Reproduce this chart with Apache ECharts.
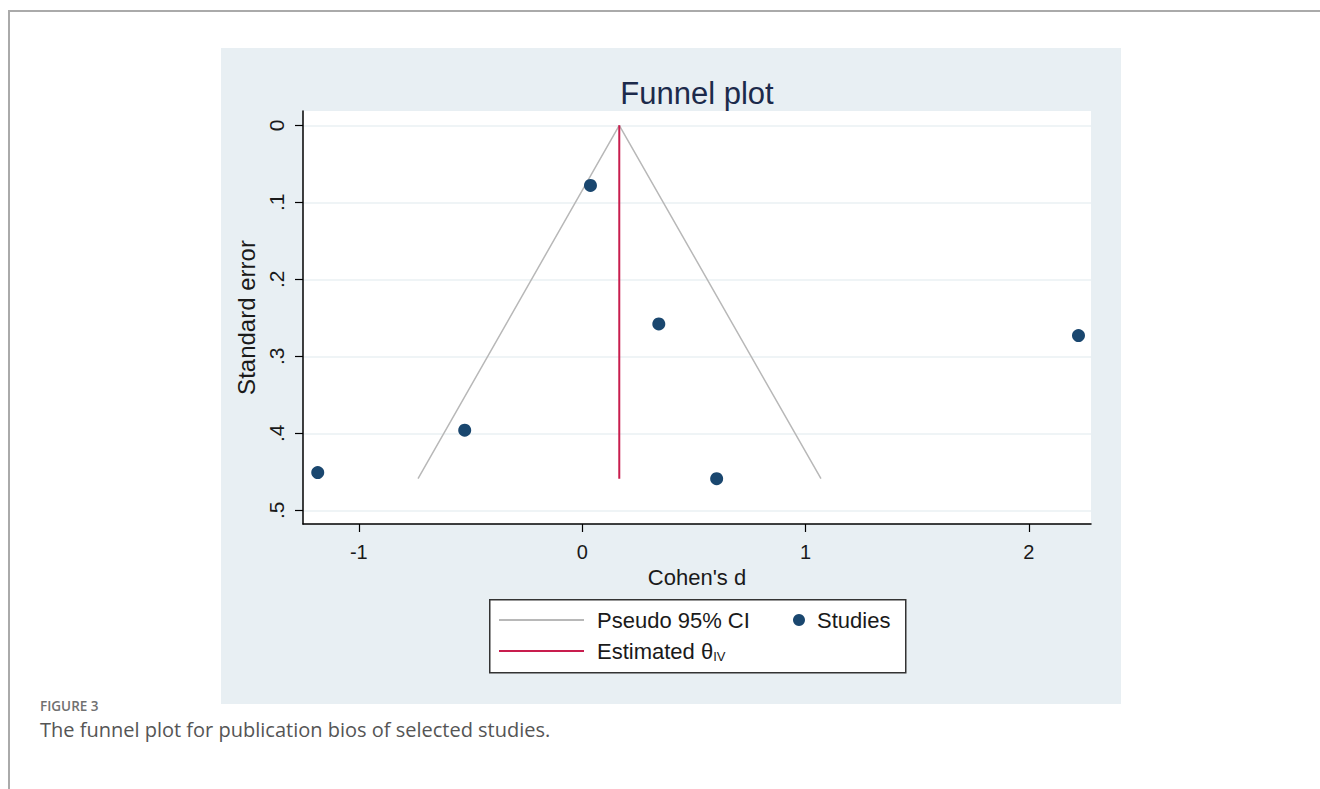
<!DOCTYPE html>
<html>
<head>
<meta charset="utf-8">
<script src="https://cdn.jsdelivr.net/npm/echarts@6/dist/echarts.min.js"></script>
<style>
  html, body { margin: 0; padding: 0; background: #fff; }
  .page { position: relative; width: 1320px; height: 789px; overflow: hidden; }
  .rule-top { position: absolute; left: 8px; top: 10px; right: 0; height: 1.5px; background: #aaa; }
  .rule-left { position: absolute; left: 8px; top: 10px; bottom: 0; width: 1.5px; background: #aaa; }
  .chart { position: absolute; left: 221px; top: 48px; width: 900px; height: 656px; }
  .fig { position: absolute; left: 40px; top: 697px; font-family: "Open Sans", sans-serif; font-size: 13.5px; font-weight: 600; color: #707070; }
  .cap { position: absolute; left: 40px; top: 716px; font-family: "Open Sans", sans-serif; font-size: 20px; color: #555; }
</style>
</head>
<body>
<div class="page">
  <div class="rule-top"></div>
  <div class="rule-left"></div>
  <div id="chart" class="chart"></div>
  <div class="fig">FIGURE 3</div>
  <div class="cap">The funnel plot for publication bios of selected studies.</div>
</div>
<script>
  // studies (Cohen's d, standard error)
  const studyD = [0.037, 0.343, 2.222, 0.602, -0.526, -1.184]
  const studySE = [0.078, 0.258, 0.273, 0.459, 0.396, 0.451]
  // pseudo 95% CI funnel
  const ciD = [-0.735, 0.166, 1.069]
  const ciSE = [0.459, 0, 0.459]
  // estimated theta (IV)
  const thetaD = [0.166, 0.166]
  const thetaSE = [0, 0.459]
  const xTicks = [-1, 0, 1, 2]
  const yTicks = [0, 0.1, 0.2, 0.3, 0.4, 0.5]

  const pairs = (xs, ys) => xs.map((x, i) => [x, ys[i]])
  const font = '"Liberation Sans", Arial, sans-serif'

  const myChart = echarts.init(document.getElementById('chart'), null, { renderer: 'svg' })
  const option = {
    backgroundColor: '#e8eff3',
    animation: false,
    textStyle: { fontFamily: font },
    title: {
      text: 'Funnel plot',
      left: 471,
      textAlign: 'center',
      top: 25,
      textStyle: { fontFamily: font, fontSize: 31, fontWeight: 'normal', color: '#1c2a4b' },
    },
    grid: {
      left: 82,
      top: 63,
      right: 30,
      bottom: 180,
      show: true,
      backgroundColor: '#fff',
      borderWidth: 0,
    },
    graphic: [
      {
        type: 'rect',
        left: 268,
        top: 551,
        shape: { width: 416, height: 73 },
        style: { fill: '#fff', stroke: '#333', lineWidth: 1.5 },
        z: 0,
      },
    ],
    legend: [
      {
        data: [{ name: 'Pseudo 95% CI', icon: 'rect' }],
        left: 278,
        top: 560,
        padding: 0,
        itemWidth: 85,
        itemHeight: 2,
        selectedMode: false,
        textStyle: { fontFamily: font, fontSize: 22, color: '#1a1a1a', padding: [0, 0, 0, 8], lineHeight: 24 },
      },
      {
        data: [{ name: 'Studies', icon: 'circle' }],
        left: 572,
        top: 560,
        padding: 0,
        itemWidth: 12,
        itemHeight: 12,
        selectedMode: false,
        textStyle: { fontFamily: font, fontSize: 22, color: '#1a1a1a', padding: [0, 0, 0, 7], lineHeight: 24 },
      },
      {
        data: [{ name: 'Estimated θIV', icon: 'rect' }],
        left: 278,
        top: 591,
        padding: 0,
        itemWidth: 85,
        itemHeight: 2,
        selectedMode: false,
        formatter: () => 'Estimated θ{sub|IV}',
        textStyle: {
          fontFamily: font,
          fontSize: 22,
          color: '#1a1a1a',
          padding: [0, 0, 0, 8],
          lineHeight: 24,
          rich: { sub: { fontFamily: font, fontSize: 13, color: '#1a1a1a', padding: [10, 0, 0, 0] } },
        },
      },
    ],
    xAxis: {
      type: 'value',
      min: -1.25,
      max: 2.278,
      name: "Cohen's d",
      nameLocation: 'middle',
      nameGap: 39,
      nameTextStyle: { fontFamily: font, fontSize: 22, color: '#1a1a1a' },
      axisLine: { show: true, onZero: false, lineStyle: { color: '#000', width: 1.5 } },
      axisTick: { show: true, length: 8, customValues: xTicks, lineStyle: { color: '#000', width: 1.2 } },
      axisLabel: { customValues: xTicks, margin: 18, fontFamily: font, fontSize: 20, color: '#1a1a1a' },
      splitLine: { show: false },
    },
    yAxis: {
      type: 'value',
      inverse: true,
      min: -0.0186,
      max: 0.5178,
      name: 'Standard error',
      nameLocation: 'middle',
      nameGap: 40,
      nameTextStyle: { fontFamily: font, fontSize: 24, color: '#1a1a1a' },
      axisLine: { show: true, onZero: false, lineStyle: { color: '#000', width: 1.5 } },
      axisTick: { show: true, length: 8, customValues: yTicks, lineStyle: { color: '#000', width: 1.2 } },
      axisLabel: {
        customValues: yTicks,
        rotate: 90,
        margin: 16,
        fontFamily: font,
        fontSize: 21,
        color: '#1a1a1a',
        formatter: v => (v === 0 ? '0' : String(v).replace(/^0/, '')),
      },
      splitLine: { show: true, lineStyle: { color: '#eaf1f3', width: 1.5 } },
    },
    series: [
      {
        name: 'Pseudo 95% CI',
        type: 'line',
        data: pairs(ciD, ciSE),
        showSymbol: false,
        color: '#b8b8b8',
        lineStyle: { color: '#b8b8b8', width: 1.5 },
        z: 2,
      },
      {
        name: 'Estimated θIV',
        type: 'line',
        data: pairs(thetaD, thetaSE),
        showSymbol: false,
        color: '#c81d4e',
        lineStyle: { color: '#c81d4e', width: 2 },
        z: 3,
      },
      {
        name: 'Studies',
        type: 'scatter',
        data: pairs(studyD, studySE),
        symbolSize: 13,
        color: '#1a476f',
        itemStyle: { color: '#1a476f', opacity: 1 },
        z: 4,
      },
    ],
  }
  option && myChart.setOption(option)
</script>
</body>
</html>
